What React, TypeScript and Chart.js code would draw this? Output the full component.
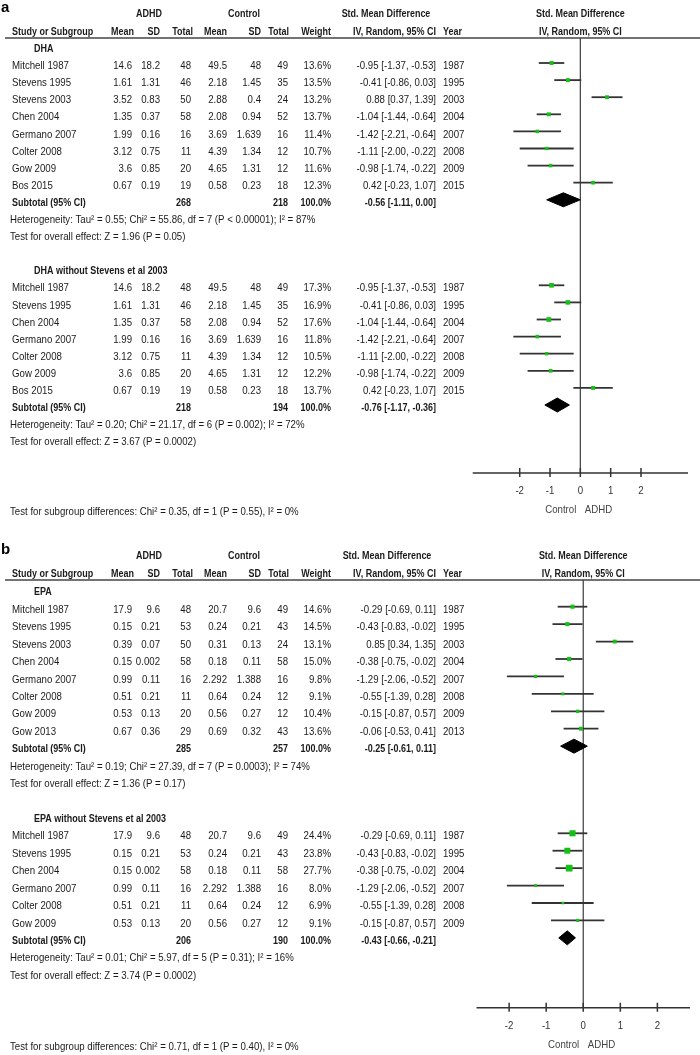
import React, { useEffect, useRef } from "react";
import { Chart, registerables } from "chart.js";

Chart.register(...registerables);

// ---------- shared labels ----------
const topHeaders = ["ADHD", "Control", "Std. Mean Difference", "Std. Mean Difference"];
const columnHeaders = ["Study or Subgroup", "Mean", "SD", "Total", "Mean", "SD", "Total", "Weight", "IV, Random, 95% CI", "Year"];
const plotHeader = "IV, Random, 95% CI";
const axisTicks = [-2, -1, 0, 1, 2];
const favourLabels = ["Control", "ADHD"];

// ---------- panel a : DHA ----------
const dhaStudies = ["Mitchell 1987", "Stevens 1995", "Stevens 2003", "Chen 2004", "Germano 2007", "Colter 2008", "Gow 2009", "Bos 2015"];
const dhaAdhdMean = ["14.6", "1.61", "3.52", "1.35", "1.99", "3.12", "3.6", "0.67"];
const dhaAdhdSD = ["18.2", "1.31", "0.83", "0.37", "0.16", "0.75", "0.85", "0.19"];
const dhaAdhdN = [48, 46, 50, 58, 16, 11, 20, 19];
const dhaCtrlMean = ["49.5", "2.18", "2.88", "2.08", "3.69", "4.39", "4.65", "0.58"];
const dhaCtrlSD = ["48", "1.45", "0.4", "0.94", "1.639", "1.34", "1.31", "0.23"];
const dhaCtrlN = [49, 35, 24, 52, 16, 12, 12, 18];
const dhaSmd = [-0.95, -0.41, 0.88, -1.04, -1.42, -1.11, -0.98, 0.42];
const dhaLow = [-1.37, -0.86, 0.37, -1.44, -2.21, -2.0, -1.74, -0.23];
const dhaHigh = [-0.53, 0.03, 1.39, -0.64, -0.64, -0.22, -0.22, 1.07];
const dhaYear = [1987, 1995, 2003, 2004, 2007, 2008, 2009, 2015];
const dhaWeightAll = [13.6, 13.5, 13.2, 13.7, 11.4, 10.7, 11.6, 12.3];
const dhaSubsetIdx = [0, 1, 3, 4, 5, 6, 7];
const dhaWeightSubset = [17.3, 16.9, 17.6, 11.8, 10.5, 12.2, 13.7];
const dhaGroupTitles = ["DHA", "DHA without Stevens et al 2003"];
const dhaTotalAdhd = [268, 218];
const dhaTotalCtrl = [218, 194];
const dhaPooled = [-0.56, -0.76];
const dhaPooledLow = [-1.11, -1.17];
const dhaPooledHigh = [0.0, -0.36];
const dhaHeterogeneity = [
  "Heterogeneity: Tau² = 0.55; Chi² = 55.86, df = 7 (P < 0.00001); I² = 87%",
  "Heterogeneity: Tau² = 0.20; Chi² = 21.17, df = 6 (P = 0.002); I² = 72%",
];
const dhaOverall = ["Test for overall effect: Z = 1.96 (P = 0.05)", "Test for overall effect: Z = 3.67 (P = 0.0002)"];
const dhaSubgroupTest = "Test for subgroup differences: Chi² = 0.35, df = 1 (P = 0.55), I² = 0%";

// ---------- panel b : EPA ----------
const epaStudies = ["Mitchell 1987", "Stevens 1995", "Stevens 2003", "Chen 2004", "Germano 2007", "Colter 2008", "Gow 2009", "Gow 2013"];
const epaAdhdMean = ["17.9", "0.15", "0.39", "0.15", "0.99", "0.51", "0.53", "0.67"];
const epaAdhdSD = ["9.6", "0.21", "0.07", "0.002", "0.11", "0.21", "0.13", "0.36"];
const epaAdhdN = [48, 53, 50, 58, 16, 11, 20, 29];
const epaCtrlMean = ["20.7", "0.24", "0.31", "0.18", "2.292", "0.64", "0.56", "0.69"];
const epaCtrlSD = ["9.6", "0.21", "0.13", "0.11", "1.388", "0.24", "0.27", "0.32"];
const epaCtrlN = [49, 43, 24, 58, 16, 12, 12, 43];
const epaSmd = [-0.29, -0.43, 0.85, -0.38, -1.29, -0.55, -0.15, -0.06];
const epaLow = [-0.69, -0.83, 0.34, -0.75, -2.06, -1.39, -0.87, -0.53];
const epaHigh = [0.11, -0.02, 1.35, -0.02, -0.52, 0.28, 0.57, 0.41];
const epaYear = [1987, 1995, 2003, 2004, 2007, 2008, 2009, 2013];
const epaWeightAll = [14.6, 14.5, 13.1, 15.0, 9.8, 9.1, 10.4, 13.6];
const epaSubsetIdx = [0, 1, 3, 4, 5, 6];
const epaWeightSubset = [24.4, 23.8, 27.7, 8.0, 6.9, 9.1];
const epaGroupTitles = ["EPA", "EPA without Stevens et al 2003"];
const epaTotalAdhd = [285, 206];
const epaTotalCtrl = [257, 190];
const epaPooled = [-0.25, -0.43];
const epaPooledLow = [-0.61, -0.66];
const epaPooledHigh = [0.11, -0.21];
const epaHeterogeneity = [
  "Heterogeneity: Tau² = 0.19; Chi² = 27.39, df = 7 (P = 0.0003); I² = 74%",
  "Heterogeneity: Tau² = 0.01; Chi² = 5.97, df = 5 (P = 0.31); I² = 16%",
];
const epaOverall = ["Test for overall effect: Z = 1.36 (P = 0.17)", "Test for overall effect: Z = 3.74 (P = 0.0002)"];
const epaSubgroupTest = "Test for subgroup differences: Chi² = 0.71, df = 1 (P = 0.40), I² = 0%";

// ---------- model building ----------
const fmt = (v: number) => v.toFixed(2);
const ciText = (m: number, l: number, h: number) => `${fmt(m)} [${fmt(l)}, ${fmt(h)}]`;

interface Study { k: number; name: string; cells: string[]; year: string; smd: number; lo: number; hi: number; w: number; }
interface Group {
  title: string; titleK: number; studies: Study[]; subK: number; subCells: string[];
  pooled: number; lo: number; hi: number; het: string; hetK: number; overall: string; overallK: number;
}

function buildGroups(src: any, titles: string[], subsets: number[][], weights: number[][], totA: number[], totC: number[],
  pooled: number[], pLo: number[], pHi: number[], het: string[], overall: string[]): Group[] {
  const groups: Group[] = [];
  let k = 0;
  titles.forEach((title, g) => {
    const titleK = k++;
    const studies = subsets[g].map((i, j) => ({
      k: k++,
      name: src.studies[i],
      cells: [src.adhdMean[i], src.adhdSD[i], String(src.adhdN[i]), src.ctrlMean[i], src.ctrlSD[i], String(src.ctrlN[i]),
        weights[g][j].toFixed(1) + "%", ciText(src.smd[i], src.low[i], src.high[i])],
      year: String(src.year[i]),
      smd: src.smd[i], lo: src.low[i], hi: src.high[i], w: weights[g][j],
    }));
    const subK = k++;
    const hetK = k++;
    const overallK = k++;
    k++;
    groups.push({
      title, titleK, studies, subK,
      subCells: ["", "", String(totA[g]), "", "", String(totC[g]), "100.0%", ciText(pooled[g], pLo[g], pHi[g])],
      pooled: pooled[g], lo: pLo[g], hi: pHi[g], het: het[g], hetK, overall: overall[g], overallK,
    });
  });
  return groups;
}

const dhaGroups = buildGroups(
  { studies: dhaStudies, adhdMean: dhaAdhdMean, adhdSD: dhaAdhdSD, adhdN: dhaAdhdN, ctrlMean: dhaCtrlMean, ctrlSD: dhaCtrlSD, ctrlN: dhaCtrlN, smd: dhaSmd, low: dhaLow, high: dhaHigh, year: dhaYear },
  dhaGroupTitles, [dhaStudies.map((_, i) => i), dhaSubsetIdx], [dhaWeightAll, dhaWeightSubset],
  dhaTotalAdhd, dhaTotalCtrl, dhaPooled, dhaPooledLow, dhaPooledHigh, dhaHeterogeneity, dhaOverall);

const epaGroups = buildGroups(
  { studies: epaStudies, adhdMean: epaAdhdMean, adhdSD: epaAdhdSD, adhdN: epaAdhdN, ctrlMean: epaCtrlMean, ctrlSD: epaCtrlSD, ctrlN: epaCtrlN, smd: epaSmd, low: epaLow, high: epaHigh, year: epaYear },
  epaGroupTitles, [epaStudies.map((_, i) => i), epaSubsetIdx], [epaWeightAll, epaWeightSubset],
  epaTotalAdhd, epaTotalCtrl, epaPooled, epaPooledLow, epaPooledHigh, epaHeterogeneity, epaOverall);

// ---------- layout / style ----------
interface PanelSpec {
  letter: string; height: number; ruleY: number; axisY: number; firstRowY: number; rowStep: number;
  xMin: number; xMax: number; xLeft: number; xRight: number; smdHeaderX: number; groups: Group[]; subgroupTest: string;
}

const panelA: PanelSpec = {
  letter: "a", height: 530, ruleY: 38, axisY: 473, firstRowY: 63, rowStep: 17.1,
  xMin: -3.55, xMax: 3.55, xLeft: 472.7, xRight: 688, smdHeaderX: 386, groups: dhaGroups, subgroupTest: dhaSubgroupTest,
};
const panelB: PanelSpec = {
  letter: "b", height: 525, ruleY: 50, axisY: 477.7, firstRowY: 76.7, rowStep: 17.43,
  xMin: -2.88, xMax: 2.88, xLeft: 476.5, xRight: 690, smdHeaderX: 387, groups: epaGroups, subgroupTest: epaSubgroupTest,
};

const FONT = '"Liberation Sans", Arial, sans-serif';
const TEXT_COLOR = "#1a1a1a";
const GREEN = "#16c016";
const LINE_COLOR = "#333";
const TEXT_DY = 3;
const NAME_X = 12;
const TITLE_X = 34;
const NOTE_X = 10;
const COL_RIGHT = [132, 160, 191, 227, 261, 288, 331, 436];
const HEAD_RIGHT = [134, 160, 193, 227, 261, 289, 331, 436];
const YEAR_X = 443;

function txt(ctx: CanvasRenderingContext2D, s: string, x: number, y: number, align: CanvasTextAlign,
  bold = false, size = 11.5, color = TEXT_COLOR) {
  ctx.save();
  ctx.font = `${bold ? "bold " : ""}${size}px ${FONT}`;
  ctx.textAlign = align;
  ctx.textBaseline = "middle";
  ctx.fillStyle = color;
  ctx.translate(x, y);
  ctx.scale(bold ? 0.78 : 0.84, 1);
  ctx.fillText(s, 0, 0);
  ctx.restore();
}

const markerSide = (w: number) => 1.2 + w * 0.2;

function ForestPanel({ spec }: { spec: PanelSpec }) {
  const ref = useRef<HTMLCanvasElement>(null);
  useEffect(() => {
    const canvas = ref.current;
    if (!canvas) return;
    const yMin = 1 + (spec.ruleY - spec.firstRowY) / spec.rowStep;
    const yMax = 1 + (spec.axisY - spec.firstRowY) / spec.rowStep;
    const half = 7 / spec.rowStep;
    const studies = spec.groups.flatMap((g) => g.studies);

    const datasets: any[] = [];
    datasets.push({
      data: studies.map((s) => ({ x: s.smd, y: s.k })),
      showLine: false,
      pointStyle: "rect",
      pointRadius: studies.map((s) => markerSide(s.w) / Math.SQRT2),
      pointBackgroundColor: GREEN,
      pointBorderWidth: 0,
      clip: false,
    });
    spec.groups.forEach((g) => {
      datasets.push({
        data: [
          { x: g.lo, y: g.subK }, { x: g.pooled, y: g.subK - half }, { x: g.hi, y: g.subK },
          { x: g.pooled, y: g.subK + half }, { x: g.lo, y: g.subK },
        ],
        fill: "shape",
        backgroundColor: "#000",
        borderColor: "#000",
        borderWidth: 1,
        pointRadius: 0,
        tension: 0,
        clip: false,
      });
    });
    studies.forEach((s) => {
      datasets.push({
        data: [{ x: s.lo, y: s.k }, { x: s.hi, y: s.k }],
        borderColor: LINE_COLOR,
        borderWidth: 1.8,
        pointRadius: 0,
        fill: false,
        clip: false,
      });
    });
    datasets.push({
      data: [{ x: 0, y: yMin }, { x: 0, y: yMax }],
      borderColor: "#4a4a4a",
      borderWidth: 1.3,
      pointRadius: 0,
      fill: false,
      clip: false,
    });

    const tablePlugin = {
      id: "forestTable",
      afterDraw(chart: any) {
        const ctx: CanvasRenderingContext2D = chart.ctx;
        const xs = chart.scales.x;
        const ys = chart.scales.y;
        const area = chart.chartArea;
        const rowY = (k: number) => ys.getPixelForValue(k) + TEXT_DY;
        const zeroX = xs.getPixelForValue(0);

        // panel letter
        ctx.save();
        ctx.font = `bold 15px ${FONT}`;
        ctx.fillStyle = "#000";
        ctx.textBaseline = "middle";
        ctx.textAlign = "left";
        ctx.fillText(spec.letter, 1, area.top - 30);
        ctx.restore();

        // header rows
        const h1 = area.top - 24.5;
        const h2 = area.top - 6;
        txt(ctx, topHeaders[0], 149, h1, "center", true);
        txt(ctx, topHeaders[1], 244, h1, "center", true);
        txt(ctx, topHeaders[2], spec.smdHeaderX, h1, "center", true);
        txt(ctx, topHeaders[3], zeroX, h1, "center", true);
        txt(ctx, columnHeaders[0], NAME_X, h2, "left", true);
        for (let c = 1; c <= 8; c++) txt(ctx, columnHeaders[c], HEAD_RIGHT[c - 1], h2, "right", true);
        txt(ctx, columnHeaders[9], YEAR_X, h2, "left", true);
        txt(ctx, plotHeader, zeroX, h2, "center", true);

        // rule
        ctx.save();
        ctx.strokeStyle = "#444";
        ctx.lineWidth = 1.5;
        ctx.beginPath();
        ctx.moveTo(5, area.top);
        ctx.lineTo(700, area.top);
        ctx.stroke();
        ctx.restore();

        // table body
        spec.groups.forEach((g) => {
          txt(ctx, g.title, TITLE_X, rowY(g.titleK), "left", true);
          g.studies.forEach((s) => {
            const y = rowY(s.k);
            txt(ctx, s.name, NAME_X, y, "left");
            s.cells.forEach((c, i) => txt(ctx, c, COL_RIGHT[i], y, "right"));
            txt(ctx, s.year, YEAR_X, y, "left");
          });
          const ys2 = rowY(g.subK);
          txt(ctx, "Subtotal (95% CI)", NAME_X, ys2, "left", true);
          g.subCells.forEach((c, i) => { if (c) txt(ctx, c, COL_RIGHT[i], ys2, "right", true); });
          txt(ctx, g.het, NOTE_X, rowY(g.hetK), "left");
          txt(ctx, g.overall, NOTE_X, rowY(g.overallK), "left");
        });

        // axis
        const ay = area.bottom;
        ctx.save();
        ctx.strokeStyle = "#333";
        ctx.lineWidth = 1.5;
        ctx.beginPath();
        ctx.moveTo(xs.getPixelForValue(spec.xMin), ay);
        ctx.lineTo(xs.getPixelForValue(spec.xMax), ay);
        axisTicks.forEach((t) => {
          const px = xs.getPixelForValue(t);
          ctx.moveTo(px, ay - 5);
          ctx.lineTo(px, ay + 4);
        });
        ctx.stroke();
        ctx.restore();
        axisTicks.forEach((t) => txt(ctx, String(t), xs.getPixelForValue(t), ay + 18, "center", false, 11.5, "#333"));
        txt(ctx, favourLabels[0], zeroX - 4, ay + 37, "right", false, 11.5, "#444");
        txt(ctx, favourLabels[1], zeroX + 4.5, ay + 37, "left", false, 11.5, "#444");
        txt(ctx, spec.subgroupTest, NOTE_X, ay + 39, "left");
      },
    };

    const chart = new Chart(canvas, {
      type: "line",
      data: { datasets },
      options: {
        responsive: false,
        animation: false,
        devicePixelRatio: 1,
        events: [],
        layout: { padding: { left: spec.xLeft, right: 700 - spec.xRight, top: spec.ruleY, bottom: spec.height - spec.axisY } },
        scales: {
          x: { type: "linear", min: spec.xMin, max: spec.xMax, display: false },
          y: { type: "linear", min: yMin, max: yMax, reverse: true, display: false },
        },
        plugins: { legend: { display: false }, tooltip: { enabled: false } },
      },
      plugins: [tablePlugin],
    } as any);
    return () => chart.destroy();
  }, [spec]);
  return <canvas ref={ref} width={700} height={spec.height} style={{ display: "block", width: 700, height: spec.height }} />;
}

export default function App() {
  return (
    <div style={{ position: "absolute", left: 0, top: 0, width: 700, height: 1055, background: "#fff" }}>
      <ForestPanel spec={panelA} />
      <ForestPanel spec={panelB} />
    </div>
  );
}
